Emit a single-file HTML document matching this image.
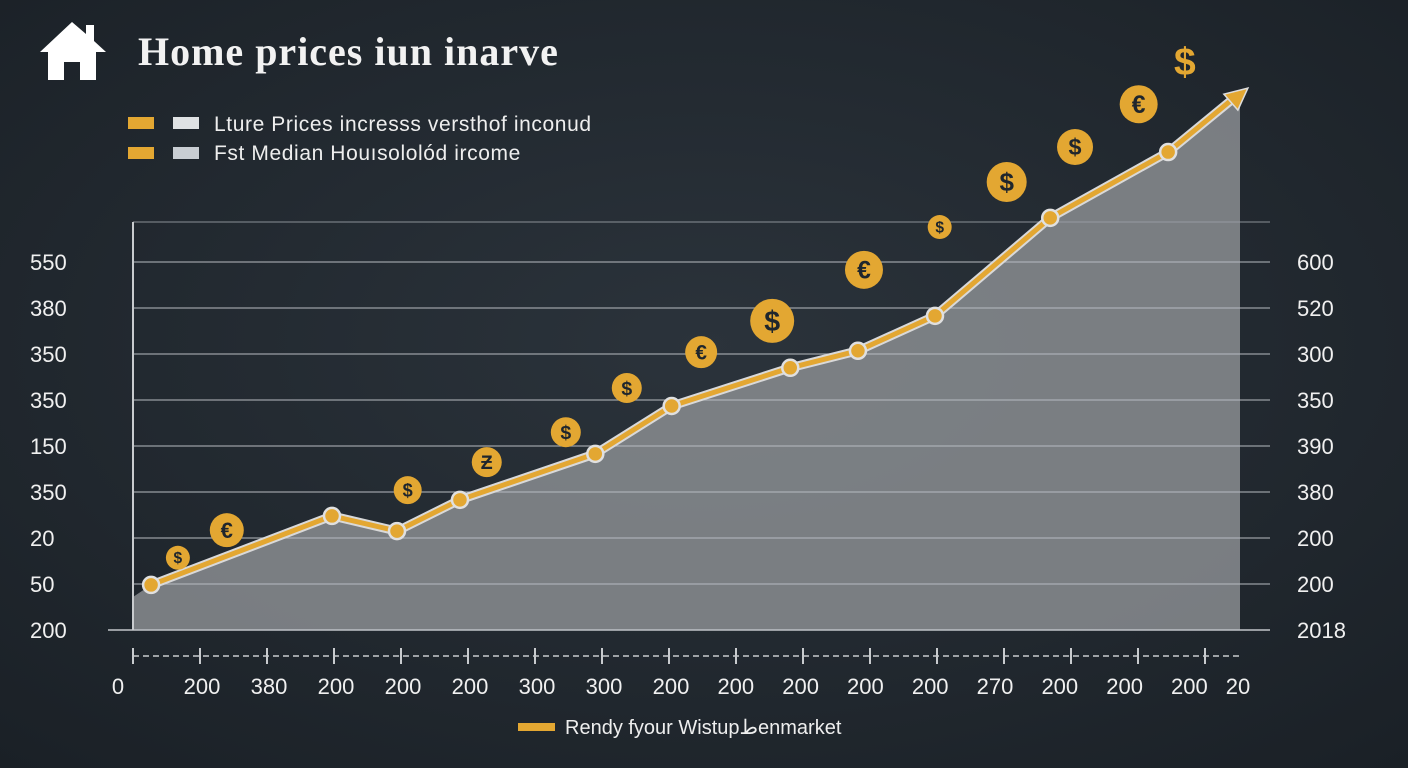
<!DOCTYPE html>
<html><head><meta charset="utf-8"><style>
html,body{margin:0;padding:0;background:#1f262d;}
svg{display:block;font-family:"Liberation Sans",sans-serif;}
</style></head><body>
<svg width="1408" height="768" viewBox="0 0 1408 768">
<defs>
<radialGradient id="bg" cx="50%" cy="45%" r="75%"><stop offset="0" stop-color="#2b333b"/><stop offset="1" stop-color="#1a2026"/></radialGradient>
</defs>
<rect width="1408" height="768" fill="url(#bg)"/>
<g>
<path d="M72 22 L40 52 L48 52 L48 80 L64 80 L64 62 L80 62 L80 80 L96 80 L96 52 L106 52 L94 41 L94 25 L86 25 L86 34 Z" fill="#fff"/>
<text x="138" y="65" font-family="Liberation Serif,serif" font-weight="bold" font-size="40" letter-spacing="1" fill="#f2f2f2">Home  prices iun inarve</text>
</g>
<g font-size="21" fill="#eee">
<rect x="128" y="117" width="26" height="12" fill="#e3a732"/>
<rect x="173" y="117" width="26" height="12" fill="#dfe2e4"/>
<text x="214" y="131" letter-spacing="0.6">Lture Prices  incresss versthof  inconud</text>
<rect x="128" y="147" width="26" height="12" fill="#e3a732"/>
<rect x="173" y="147" width="26" height="12" fill="#c9ced3"/>
<text x="214" y="160" letter-spacing="0.6">Fst Median Houısololód  ircome</text>
</g>
<g id="plot"></g>
<g>
<rect x="518" y="723" width="37" height="8" fill="#e3a732"/>
<text x="565" y="734" font-size="20" fill="#eee">Rendy fyour Wistupطenmarket</text>
</g>
</svg>
<script>
const leftTicks=["550","380","350","350","150","350","20","50","200"];
const rightTicks=["600","520","300","350","390","380","200","200","2018"];
const xTickLabels=["0","200","380","200","200","200","300","300","200","200","200","200","200","270","200","200","200","20"];
const seriesX=[0.27,2.97,3.94,4.88,6.9,8.04,9.81,10.82,11.97,13.69,15.45];
const seriesY=[0.98,2.48,2.15,2.83,3.83,4.87,5.7,6.07,6.83,8.96,10.39];
const arrowEnd=[16.64,11.78];
const coinX=[0.67,1.40,4.10,5.28,6.46,7.37,8.48,9.54,10.91,12.04,13.04,14.06,15.01,15.70];
const coinY=[1.57,2.17,3.04,3.65,4.30,5.26,6.04,6.72,7.83,8.76,9.74,10.5,11.43,12.28];
const coinSym=["$","€","$","Ƶ","$","$","€","$","€","$","$","$","€","$"];
const coinR=[12,17,14,15,15,15,16,22,19,12,20,18,19,0];

const X=t=>133+t*67;
const Y=v=>630-v*46;
const NS="http://www.w3.org/2000/svg";
const plot=document.getElementById('plot');
function mk(tag,attrs,parent){const e=document.createElementNS(NS,tag);for(const k in attrs)e.setAttribute(k,attrs[k]);(parent||plot).appendChild(e);return e;}

let pts=[[133,597]];
seriesX.forEach((x,i)=>pts.push([X(x),Y(seriesY[i])]));
const slope=(Y(arrowEnd[1])-Y(seriesY[10]))/(X(arrowEnd[0])-X(seriesX[10]));
const yEdge=Y(seriesY[10])+slope*(1240-X(seriesX[10]));
pts.push([1240,yEdge],[1240,630],[133,630]);
const area=mk('polygon',{points:pts.map(p=>p.join(',')).join(' '),fill:'#8a8d90','fill-opacity':'0.85'});



for(let i=0;i<=8;i++){
 const g=mk('line',{x1:(i===0?108:133),x2:1270,y1:Y(i),y2:Y(i),stroke:'#b8bcc0','stroke-width':i===0?2:1.2,'stroke-opacity':0.8});
 
 
}
const tg=mk('line',{x1:133,x2:1270,y1:222,y2:222,stroke:'#9aa0a5','stroke-width':1.2,'stroke-opacity':0.7});


const ya=mk('line',{x1:133,x2:133,y1:222,y2:630,stroke:'#c8cbce','stroke-width':2});



leftTicks.forEach((t,i)=>{const e=mk('text',{x:30,y:Y(8-i)+8,'font-size':22,fill:'#f0f0f0'});e.textContent=t;

});
rightTicks.forEach((t,i)=>{const e=mk('text',{x:1297,y:Y(8-i)+8,'font-size':22,fill:'#f0f0f0'});e.textContent=t;

});

const xa=mk('line',{x1:133,x2:1240,y1:656,y2:656,stroke:'#c8cbce','stroke-width':1.5,'stroke-dasharray':'6 4'});


xTickLabels.forEach((t,i)=>{
 if(i<17){const tk=mk('line',{x1:X(i),x2:X(i),y1:648,y2:664,stroke:'#c8cbce','stroke-width':2});
 
 }
 const lx=i===0?118:(i===17?1238:X(i)+2-Math.max(0,i-8)*2.2);
 const e=mk('text',{x:lx,y:694,'font-size':22,fill:'#f0f0f0','text-anchor':'middle'});e.textContent=t;
 
 
});

let d='M'+seriesX.map((x,i)=>X(x)+','+Y(seriesY[i])).join(' L')+' L'+(X(arrowEnd[0])-14)+','+(Y(arrowEnd[1])+10);
const halo=mk('path',{d:d,fill:'none',stroke:'#d9d9d9','stroke-width':9,'stroke-linejoin':'round'});


const ln=mk('path',{d:d,fill:'none',stroke:'#e3a732','stroke-width':5,'stroke-linejoin':'round'});


const ax=X(arrowEnd[0]),ay=Y(arrowEnd[1]);
const ar=mk('polygon',{points:`${ax},${ay} ${ax-24},${ay+6} ${ax-10},${ay+22}`,fill:'#e3a732',stroke:'#ddd','stroke-width':1.5});


seriesX.forEach((x,i)=>{const c=mk('circle',{cx:X(x),cy:Y(seriesY[i]),r:8,fill:'#e3a732',stroke:'#e0e0e0','stroke-width':2.5});

});

coinX.forEach((x,i)=>{
 const cx=X(x),cy=Y(coinY[i]),r=coinR[i];
 if(r>0){const c=mk('circle',{cx:cx,cy:cy,r:r,fill:'#e3a732'});
 
 }
 const t=mk('text',{x:cx,y:cy+(r||22)*0.45,'font-size':(r||30)*1.3,'font-weight':'bold',fill:r?'#1f262d':'#e3a732','text-anchor':'middle'});
 t.textContent=coinSym[i];
 
 
});
</script>
</body></html>
